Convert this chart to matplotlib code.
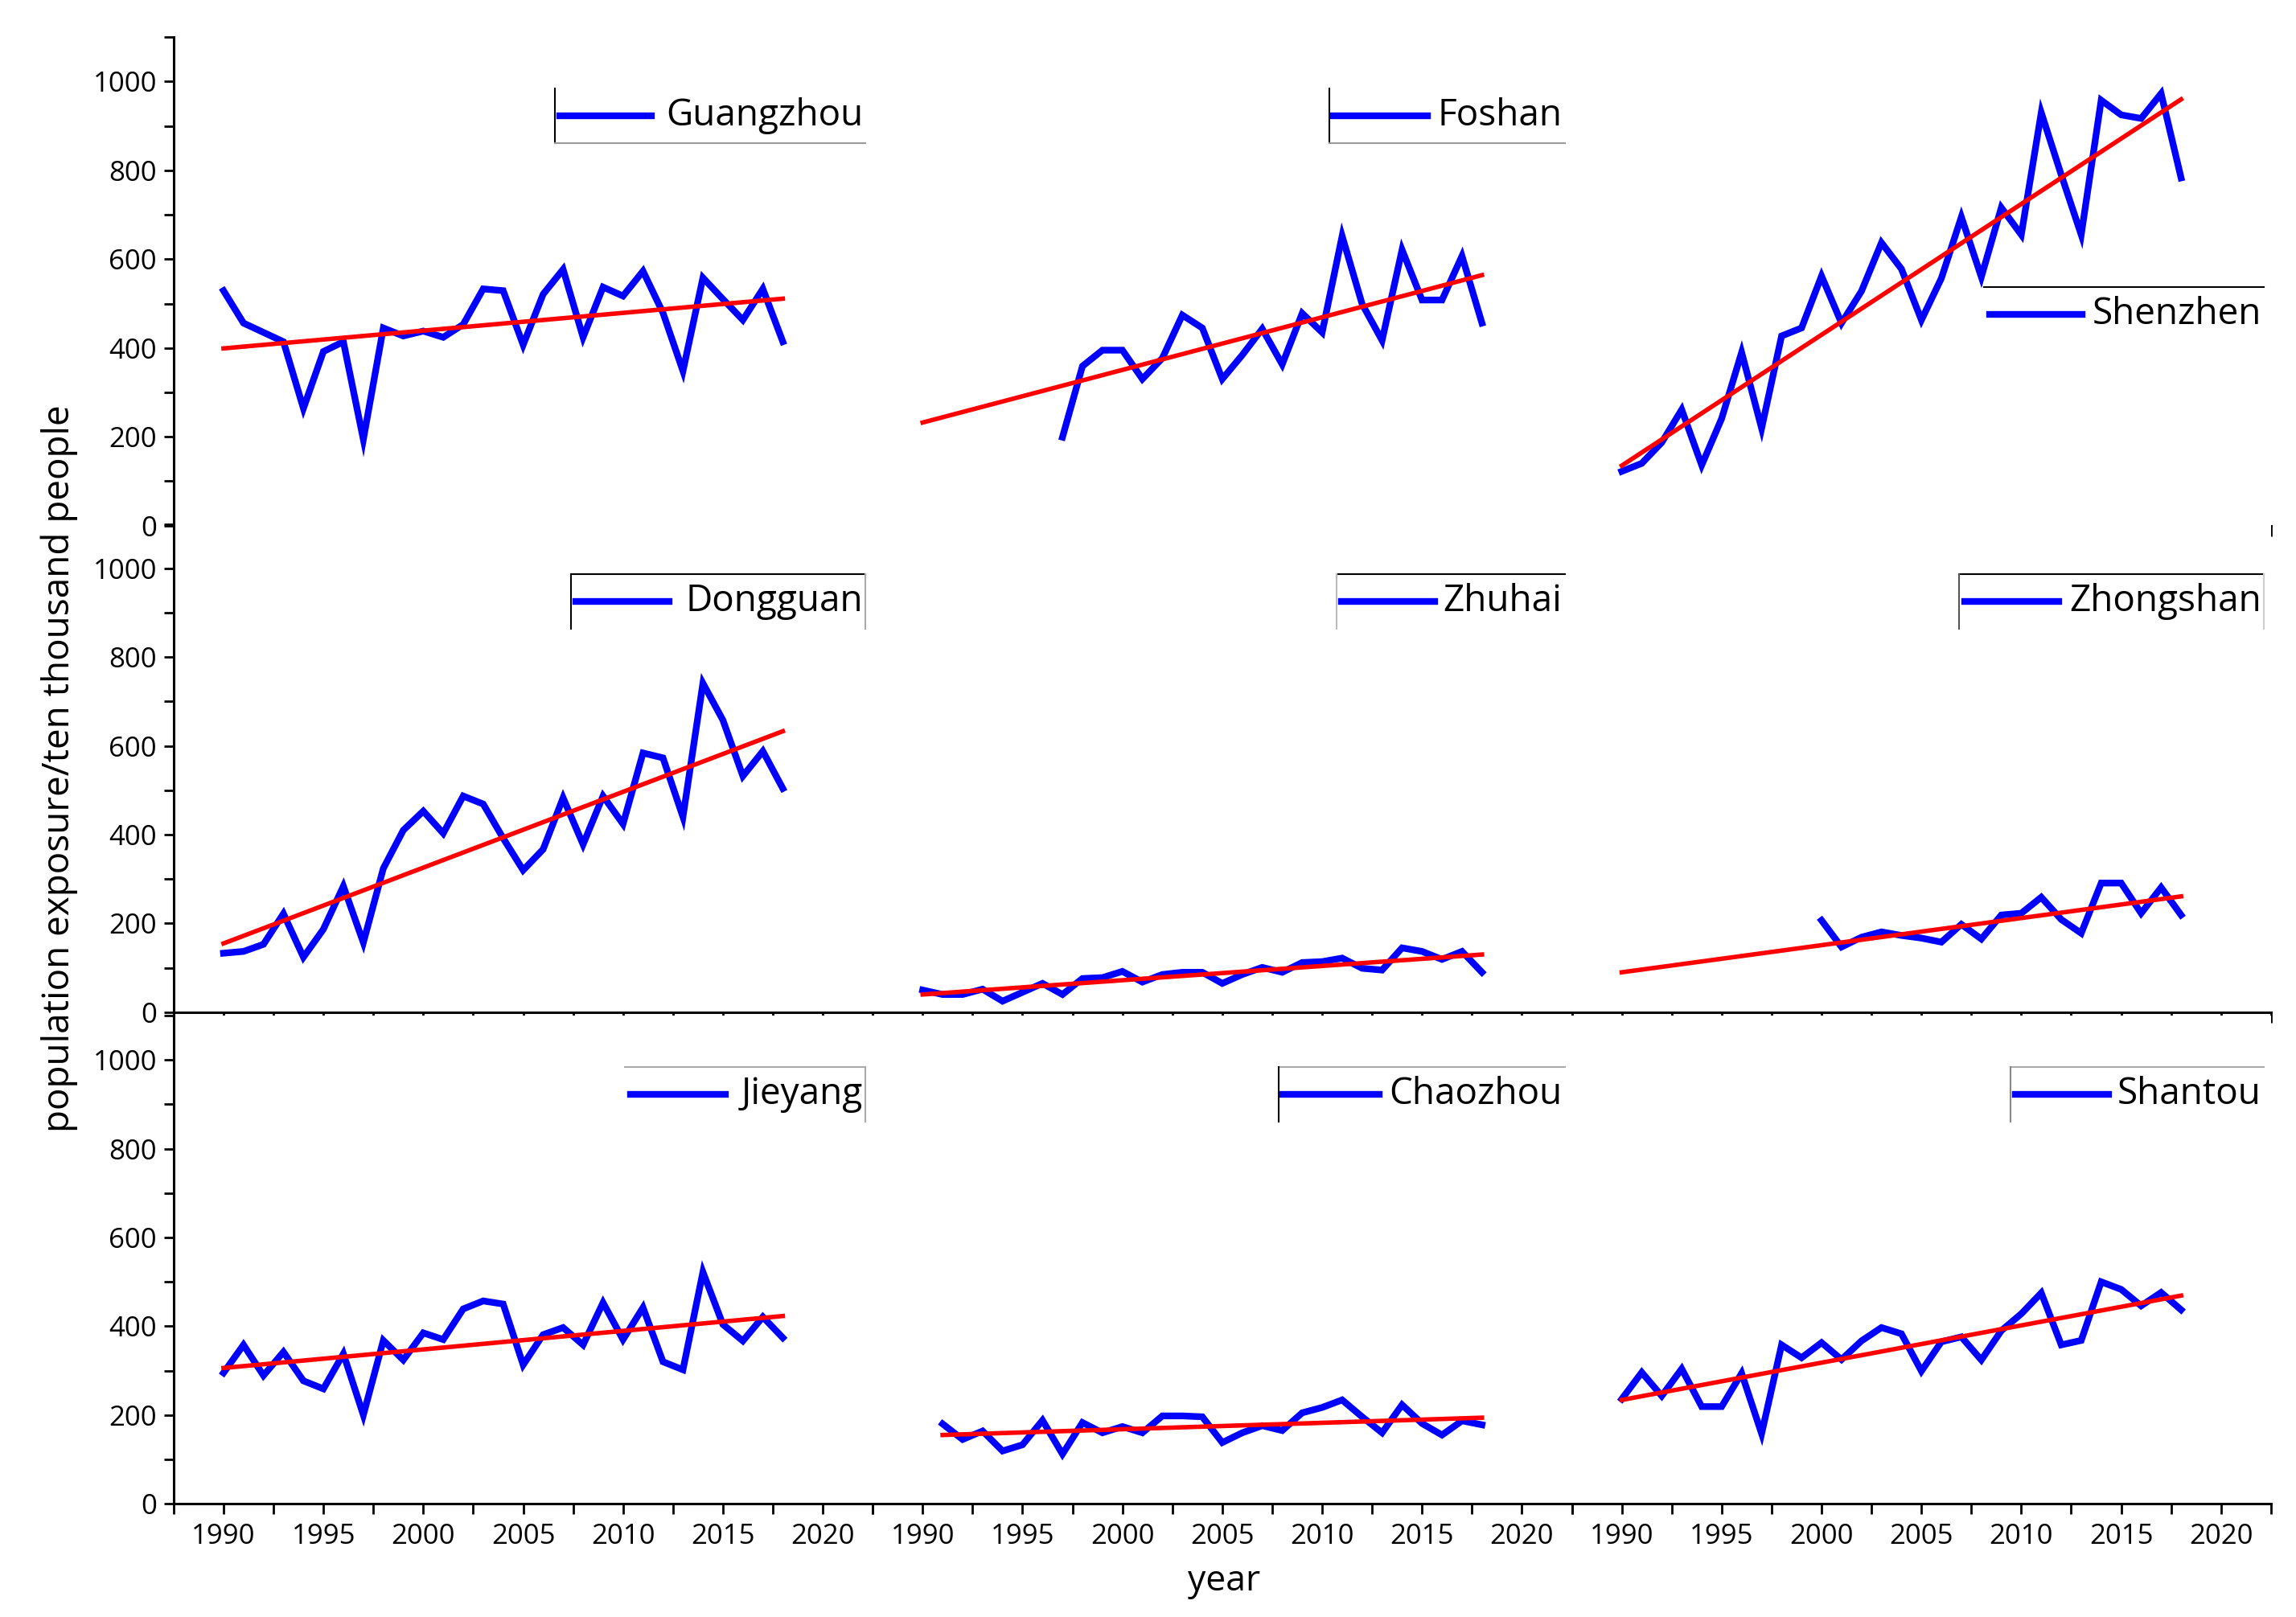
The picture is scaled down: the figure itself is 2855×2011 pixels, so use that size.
import numpy as np
import matplotlib
matplotlib.use('Agg')
from matplotlib import pyplot as plt
from matplotlib.ticker import MultipleLocator

plt.rcParams['font.family'] = ['Open Sans', 'DejaVu Sans']

# exposure values (ten thousand people)
cities = ['Guangzhou', 'Foshan', 'Shenzhen',
          'Dongguan', 'Zhuhai', 'Zhongshan',
          'Jieyang', 'Chaozhou', 'Shantou']

start_year = {'Guangzhou': 1990, 'Foshan': 1997, 'Shenzhen': 1990,
              'Dongguan': 1990, 'Zhuhai': 1990, 'Zhongshan': 2000,
              'Jieyang': 1990, 'Chaozhou': 1991, 'Shantou': 1990}

guangzhou = [529, 456, 435, 414, 264, 392, 414, 194, 445, 427, 438, 424, 453, 533, 529,
             407, 521, 577, 424, 537, 517, 573, 479, 348, 558, 510, 463, 533, 414]
foshan = [199, 359, 395, 395, 330, 377, 474, 445, 330, 384, 443, 363, 478, 435, 652,
          499, 417, 621, 508, 508, 607, 456]
shenzhen = [122, 140, 187, 261, 136, 241, 390, 219, 427, 445, 562, 456, 528, 637, 578,
            463, 557, 695, 560, 716, 655, 930, 790, 655, 958, 925, 917, 973, 783]
dongguan = [133, 137, 153, 222, 124, 187, 284, 157, 324, 410, 453, 403, 487, 469, 392,
            320, 367, 483, 378, 487, 424, 584, 573, 440, 741, 658, 532, 588, 504]
zhuhai = [50, 40, 40, 52, 25, 45, 65, 40, 76, 78, 92, 68, 85, 90, 90,
          65, 85, 101, 90, 112, 114, 122, 99, 95, 145, 137, 119, 137, 90]
zhongshan = [207, 147, 169, 181, 173, 167, 158, 198, 165, 219, 223, 259, 209, 178, 291,
             291, 223, 281, 219]
jieyang = [295, 358, 289, 342, 277, 259, 338, 200, 368, 324, 385, 370, 439, 457, 450,
           313, 381, 397, 358, 453, 370, 442, 320, 302, 522, 404, 367, 421, 374]
chaozhou = [180, 145, 164, 119, 133, 188, 112, 183, 160, 174, 160, 198, 198, 196,
            138, 160, 176, 165, 205, 217, 234, 196, 160, 223, 181, 155, 187, 178]
shantou = [236, 296, 243, 304, 219, 219, 294, 158, 358, 329, 363, 325, 367, 397, 383,
           299, 365, 376, 324, 390, 428, 475, 358, 368, 500, 483, 446, 476, 437]

values = {'Guangzhou': guangzhou, 'Foshan': foshan, 'Shenzhen': shenzhen,
          'Dongguan': dongguan, 'Zhuhai': zhuhai, 'Zhongshan': zhongshan,
          'Jieyang': jieyang, 'Chaozhou': chaozhou, 'Shantou': shantou}

# linear trend lines: (first year, value), (last year, value)
trend = {'Guangzhou': [(1990, 399), (2018, 511)],
         'Foshan': [(1990, 232), (2018, 564)],
         'Shenzhen': [(1990, 135), (2018, 960)],
         'Dongguan': [(1990, 155), (2018, 633)],
         'Zhuhai': [(1990, 40), (2018, 130)],
         'Zhongshan': [(1990, 90), (2018, 261)],
         'Jieyang': [(1990, 306), (2018, 423)],
         'Chaozhou': [(1991, 155), (2018, 194)],
         'Shantou': [(1990, 234), (2018, 469)]}

# legend box in axes fraction: x0, line start, line end, box top, box bottom, edges
legend_box = {
    'Guangzhou': (0.545, 0.552, 0.684, 0.895, 0.783, {'left': 'k', 'bottom': '#999999'}),
    'Foshan': (0.653, 0.659, 0.794, 0.895, 0.783, {'left': 'k', 'bottom': '#999999'}),
    'Shenzhen': (0.590, 0.598, 0.730, 0.488, 0.376, {'top': 'k'}),
    'Dongguan': (0.568, 0.575, 0.709, 0.898, 0.786, {'top': 'k', 'left': 'k', 'right': '#aaaaaa'}),
    'Zhuhai': (0.663, 0.670, 0.804, 0.898, 0.786, {'top': 'k', 'left': '#bbbbbb'}),
    'Zhongshan': (0.554, 0.562, 0.697, 0.898, 0.786, {'top': 'k', 'left': '#555555', 'right': '#cccccc'}),
    'Jieyang': (0.646, 0.653, 0.789, 0.895, 0.783, {'top': '#aaaaaa', 'right': '#aaaaaa'}),
    'Chaozhou': (0.581, 0.587, 0.724, 0.895, 0.783, {'top': '#aaaaaa', 'left': 'k'}),
    'Shantou': (0.627, 0.634, 0.768, 0.895, 0.783, {'top': '#aaaaaa', 'left': '#888888'}),
}

fig = plt.figure(figsize=(28.55, 20.11), dpi=100)

left0 = 0.0756
width = 0.3045
height = 0.302
bottoms = [0.675, 0.374, 0.070]

for i, city in enumerate(cities):
    row = i // 3
    col = i % 3
    ax = fig.add_axes([left0 + col * width, bottoms[row], width, height])

    v = values[city]
    yrs = np.arange(start_year[city], start_year[city] + len(v))
    ax.plot(yrs, v, color='#0000ff', lw=6, solid_joinstyle='miter', zorder=3)
    (tx0, ty0), (tx1, ty1) = trend[city]
    ax.plot([tx0, tx1], [ty0, ty1], color='#ff0000', lw=4, zorder=4)

    ax.set_xlim(1987.5, 2022.5)
    ax.set_ylim(0, 1100)

    ax.spines['top'].set_visible(False)
    ax.spines['right'].set_visible(False)
    ax.spines['bottom'].set_linewidth(2.2)
    ax.spines['left'].set_linewidth(2.2)
    if col > 0:
        ax.spines['left'].set_visible(False)

    ax.xaxis.set_major_locator(MultipleLocator(5))
    ax.xaxis.set_minor_locator(MultipleLocator(2.5))
    ax.tick_params(axis='x', which='major', direction='out', length=9, width=2,
                   labelsize=25, pad=8)
    ax.tick_params(axis='x', which='minor', direction='out', length=9, width=2)
    if row < 2:
        ax.tick_params(axis='x', labelbottom=False)

    if col == 0:
        ax.set_yticks([0, 200, 400, 600, 800, 1000])
        ax.yaxis.set_minor_locator(MultipleLocator(100))
        ax.tick_params(axis='y', which='major', direction='out', length=9, width=2,
                       labelsize=25, pad=6)
        ax.tick_params(axis='y', which='minor', direction='out', length=9, width=2)
    else:
        ax.set_yticks([])
        ax.tick_params(axis='y', which='minor', left=False)

    # legend drawn in Origin style with partial frame
    x0, lx0, lx1, ytop, ybot, edges = legend_box[city]
    x1 = 0.99
    ymid = (ytop + ybot) / 2
    ax.plot([lx0, lx1], [ymid, ymid], color='#0000ff', lw=6, transform=ax.transAxes,
            clip_on=False, zorder=5)
    ax.text(0.986, ymid, city, transform=ax.transAxes, ha='right', va='center',
            fontsize=33, zorder=5)
    for side, c in edges.items():
        if side == 'left':
            ax.plot([x0, x0], [ybot, ytop], color=c, lw=1.5, transform=ax.transAxes, clip_on=False)
        elif side == 'right':
            ax.plot([x1, x1], [ybot, ytop], color=c, lw=1.5, transform=ax.transAxes, clip_on=False)
        elif side == 'top':
            ax.plot([x0, x1], [ytop, ytop], color=c, lw=1.5, transform=ax.transAxes, clip_on=False)
        elif side == 'bottom':
            ax.plot([x0, x1], [ybot, ybot], color=c, lw=1.5, transform=ax.transAxes, clip_on=False)

fig.text(0.026, 0.525, 'population exposure/ten thousand people', rotation=90,
         ha='center', va='center', fontsize=33)
fig.text(0.533, 0.022, 'year', ha='center', va='center', fontsize=32)

fig.savefig('out.png', dpi=100)
